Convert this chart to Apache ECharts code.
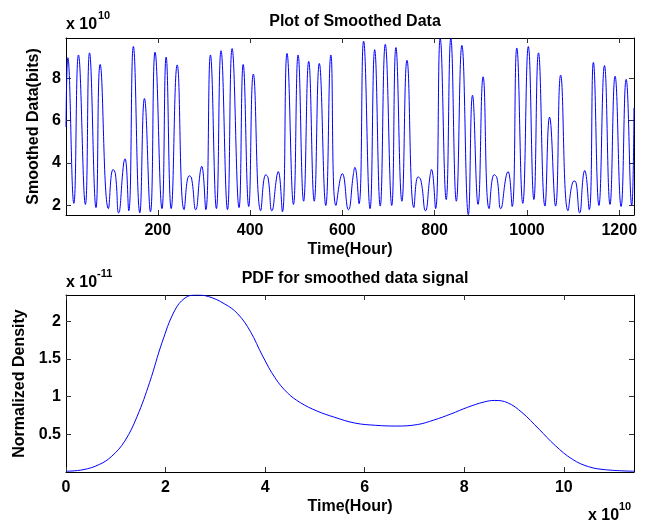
<!DOCTYPE html>
<html>
<head>
<meta charset="utf-8">
<script src="https://cdn.jsdelivr.net/npm/echarts@6/dist/echarts.min.js"></script>
<style>html,body{margin:0;padding:0;background:#fff;}#c{width:654px;height:523px;}</style>
</head>
<body>
<div id="c"></div>
<script>
// ---- Top panel: smoothed data (hour, value x 1e10) ----
const topHours = [1,5,18,28,43,52,66,75,93,103,108,115,126,129,137,147,161,171,184,194,209,218,229,242,257,268,273,282,292,295,304,314,327,337,351,361,376,385,397,407,423,434,439,447,458,461,470,480,494,504,516,527,539,550,564,575,586,600,613,624,627,636,646,660,670,682,693,707,716,729,740,755,764,770,780,790,793,802,812,825,835,847,859,873,882,894,905,918,929,935,943,955,959,968,978,991,1003,1015,1025,1039,1049,1062,1073,1089,1100,1104,1114,1122,1125,1135,1144,1156,1168,1180,1191,1204,1215,1227,1232];
const topValues = [5.7,8.97,2.1,9.1,2.05,9.2,1.9,8.65,1.85,3.7,3.5,1.65,4.0,4.2,1.75,9.5,1.65,7.05,1.7,9.23,1.85,9.0,1.85,8.63,1.8,3.4,3.3,1.8,3.6,3.85,1.8,9.1,1.85,9.3,1.8,9.4,1.9,8.65,1.95,8.2,1.75,3.45,3.3,1.75,3.4,3.6,1.7,9.17,2.05,9.1,2.2,8.8,2.2,8.7,2.0,9.1,2.0,3.5,1.8,3.5,3.8,2.08,9.75,1.85,9.35,1.97,9.6,2.0,9.45,2.2,8.85,1.9,3.35,3.2,1.75,3.4,3.7,1.85,9.88,2.28,9.88,2.2,9.55,1.56,7.2,2.05,8.07,1.85,3.45,3.3,1.85,3.4,3.6,1.95,9.43,2.1,9.5,2.28,9.2,1.97,6.17,1.97,8.15,1.75,3.13,3.15,1.65,3.4,3.65,1.8,8.75,2.0,8.6,2.05,8.1,1.95,7.95,2.0,6.6];
const topTicksX = [200,400,600,800,1000,1200];
const topTicksY = [2,4,6,8];

// ---- Bottom panel: PDF (x in 1e10, density in 1e-11) ----
const pdfX = [0,0.34,0.67,0.92,1.18,1.43,1.68,1.93,2.18,2.39,2.6,2.86,3.19,3.45,3.7,3.95,4.2,4.45,4.71,5.04,5.38,5.8,6.22,6.64,7.06,7.39,7.73,8.07,8.4,8.61,8.87,9.16,9.5,9.83,10.17,10.5,10.84,11.41];
const pdfY = [0.01,0.03,0.1,0.21,0.41,0.74,1.19,1.72,2.14,2.31,2.35,2.33,2.23,2.1,1.87,1.54,1.25,1.05,0.92,0.81,0.73,0.65,0.62,0.61,0.63,0.69,0.77,0.86,0.93,0.95,0.92,0.79,0.57,0.35,0.17,0.07,0.03,0.01];
const botTicksX = [0,2,4,6,8,10];
const botTicksY = [0.5,1,1.5,2];

const FONT = 'Liberation Sans, Arial, Helvetica, sans-serif';
const black = '#000';
function pairs(a,b){return a.map((v,i)=>[v,b[i]]);}
function plain(v){return String(v);}

function xAx(grid,min,max,ticks,pos,showLabel,name){
  return {
    type:'value', gridIndex:grid, min:min, max:max, position:pos,
    axisLine:{show:true,onZero:false,lineStyle:{color:black,width:1}},
    axisTick:{show:true,inside:true,length:5,customValues:ticks,lineStyle:{color:'#333'}},
    axisLabel:{show:showLabel,customValues:ticks,formatter:plain,margin:8,color:black,fontSize:16,fontWeight:'bold',fontFamily:FONT},
    splitLine:{show:false},
    name:name||'', nameLocation:'middle', nameGap:27,
    nameTextStyle:{color:black,fontSize:16,fontWeight:'bold',fontFamily:FONT}
  };
}
function yAx(grid,min,max,ticks,pos,showLabel,name,gap){
  return {
    type:'value', gridIndex:grid, min:min, max:max, position:pos,
    axisLine:{show:true,onZero:false,lineStyle:{color:black,width:1}},
    axisTick:{show:true,inside:true,length:5,customValues:ticks,lineStyle:{color:'#333'}},
    axisLabel:{show:showLabel,customValues:ticks,formatter:plain,margin:5,color:black,fontSize:16,fontWeight:'bold',fontFamily:FONT},
    splitLine:{show:false},
    name:name||'', nameLocation:'middle', nameGap:gap||20,
    nameTextStyle:{color:black,fontSize:16,fontWeight:'bold',fontFamily:FONT}
  };
}

const chart = echarts.init(document.getElementById('c'), null, {renderer:'canvas'});
chart.setOption({
  backgroundColor:'#fff',
  animation:false,
  title:[
    {text:'Plot of Smoothed Data', left:350, textAlign:'center', top:9,
     textStyle:{fontSize:16,fontWeight:'bold',fontFamily:FONT,color:black}},
    {text:'PDF for smoothed data signal', left:350, textAlign:'center', top:266,
     textStyle:{fontSize:16,fontWeight:'bold',fontFamily:FONT,color:black}}
  ],
  grid:[
    {left:66, top:38, width:568, height:177},
    {left:66, top:295, width:568, height:177}
  ],
  xAxis:[
    xAx(0,1,1232,topTicksX,'bottom',true,'Time(Hour)'),
    xAx(0,1,1232,topTicksX,'top',false),
    xAx(1,0,11.41,botTicksX,'bottom',true,'Time(Hour)'),
    xAx(1,0,11.41,botTicksX,'top',false)
  ],
  yAxis:[
    yAx(0,1.55,9.9,topTicksY,'left',true,'Smoothed Data(bits)',20),
    yAx(0,1.55,9.9,topTicksY,'right',false),
    yAx(1,0,2.35,botTicksY,'left',true,'Normalized Density',36),
    yAx(1,0,2.35,botTicksY,'right',false)
  ],
  series:[
    {type:'line', xAxisIndex:0, yAxisIndex:0, data:pairs(topHours,topValues), smooth:0.5,
     showSymbol:false, lineStyle:{color:'#0000ff',width:1}, clip:true},
    {type:'line', xAxisIndex:2, yAxisIndex:2, data:pairs(pdfX,pdfY), smooth:0.4,
     showSymbol:false, lineStyle:{color:'#0000ff',width:1}, clip:true}
  ],
  graphic:[
    {type:'text', left:66, top:17, style:{text:'x 10', font:'bold 16px '+FONT, fill:black}},
    {type:'text', left:98, top:10, style:{text:'10', font:'bold 11px '+FONT, fill:black}},
    {type:'text', left:66, top:275, style:{text:'x 10', font:'bold 16px '+FONT, fill:black}},
    {type:'text', left:97, top:268, style:{text:'-11', font:'bold 11px '+FONT, fill:black}},
    {type:'text', left:588, top:508, style:{text:'x 10', font:'bold 16px '+FONT, fill:black}},
    {type:'text', left:619, top:501, style:{text:'10', font:'bold 11px '+FONT, fill:black}}
  ]
});
</script>
</body>
</html>
